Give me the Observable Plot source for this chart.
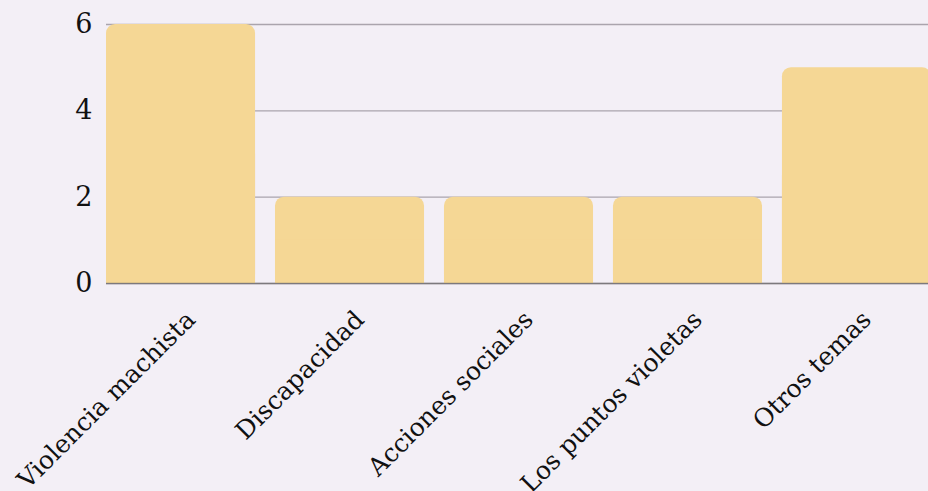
<!DOCTYPE html>
<html>
<head>
<meta charset="utf-8">
<script src="https://cdn.jsdelivr.net/npm/d3@7"></script>
<script src="https://cdn.jsdelivr.net/npm/@observablehq/plot@0.6"></script>
<style>
  html, body { margin: 0; padding: 0; background: #f3eff6; overflow: hidden; }
  #chart svg { display: block; }
</style>
</head>
<body>
<div id="chart"></div>
<script>
const categories = ["Violencia machista", "Discapacidad", "Acciones sociales", "Los puntos violetas", "Otros temas"];
const counts = [6, 2, 2, 2, 5];
const yTicks = [0, 2, 4, 6];

const data = categories.map((c, i) => ({ category: c, count: counts[i] }));
const barColor = "#f5d795";
const font = "DejaVu Serif";

const chart = Plot.plot({
  width: 928,
  height: 491,
  marginTop: 24,
  marginBottom: 208,
  marginLeft: 106,
  marginRight: -3,
  style: { background: "#f3eff6", fontFamily: font, color: "#111" },
  x: { domain: categories, paddingInner: 0.118, paddingOuter: 0, round: false, label: null },
  y: { domain: [0, 6], label: null },
  marks: [
    Plot.gridY(yTicks, { stroke: "#aaa4ad", strokeOpacity: 1, strokeWidth: 1.3 }),
    Plot.barY(data, { x: "category", y: "count", fill: barColor, rx: 9 }),
    Plot.barY(data, { x: "category", y1: 0, y2: d => d.count / 2, fill: barColor }),
    Plot.ruleY([0], { stroke: "#555", strokeOpacity: 0.55, strokeWidth: 1.5 }),
    Plot.axisY(yTicks, { tickSize: 0, tickPadding: 14, fontSize: 27, label: null, tickFormat: d => String(d) }),
    Plot.axisX({ tickSize: 0, tickRotate: -45, fontSize: 25, label: null, tickPadding: 8, dx: 10, dy: 24 })
  ]
});
document.getElementById("chart").append(chart);
</script>
</body>
</html>
